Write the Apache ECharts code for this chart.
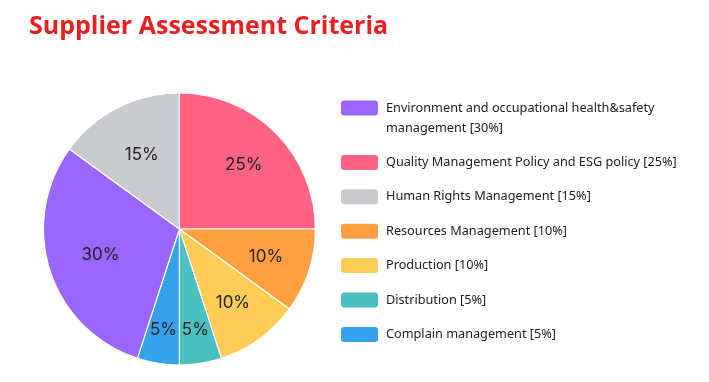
<!DOCTYPE html>
<html>
<head>
<meta charset="utf-8">
<script src="https://cdn.jsdelivr.net/npm/echarts@6/dist/echarts.min.js"></script>
<style>html,body{margin:0;padding:0;background:#fff}#c{width:709px;height:382px}</style>
</head>
<body>
<div id="c"></div>
<script>
// Slice order (clockwise from top)
const names = [
  'Quality Management Policy and ESG policy',
  'Resources Management',
  'Production',
  'Distribution',
  'Complain management',
  'Environment and occupational health&safety management',
  'Human Rights Management'
];
const values = [25, 10, 10, 5, 5, 30, 15];
const colors = ['#ff6384', '#ff9f40', '#ffcd56', '#4bc0c0', '#36a2eb', '#9966ff', '#c9cbcf'];
// Legend order
const legendOrder = [
  'Environment and occupational health&safety management',
  'Quality Management Policy and ESG policy',
  'Human Rights Management',
  'Resources Management',
  'Production',
  'Distribution',
  'Complain management'
];
// Legend display text (wrapped where the reference wraps)
const legendText = {
  'Environment and occupational health&safety management': 'Environment and occupational health&safety\nmanagement'
};

// ---- styling / layout config ----
const CENTER = [179.4, 229];
const RADIUS = 136;
// label rings: outer radius of the invisible label pie (labels sit at half of it)
const labelRings = [160, 176, 198];
const labelRingOf = [1, 1, 1, 2, 2, 0, 0];
const labelDrop = [8, 0, 0, 0, 0, 6, 6]; // top padding nudging a label down

const data = names.map((n, i) => ({ name: n, value: values[i], itemStyle: { color: colors[i] } }));
const valueOf = {};
names.forEach((n, i) => valueOf[n] = values[i]);

const labelSeries = labelRings.map((r, k) => ({
  type: 'pie',
  center: CENTER,
  radius: [0, r],
  startAngle: 90,
  clockwise: true,
  silent: true,
  itemStyle: { color: 'transparent', borderWidth: 0 },
  label: {
    show: true, position: 'inside',
    formatter: p => p.value + '%',
    fontFamily: 'Inter', fontSize: 17, color: '#222'
  },
  labelLine: { show: false },
  data: names.map((n, i) => ({
    name: n, value: values[i],
    label: { show: labelRingOf[i] === k, padding: [labelDrop[i], 0, 0, 0] }
  }))
}));

const chart = echarts.init(document.getElementById('c'));
chart.setOption({
  animation: false,
  title: {
    text: 'Supplier Assessment Criteria',
    left: 24, top: 9,
    textStyle: { color: '#ea1f1f', fontSize: 25, fontWeight: 'bold', fontFamily: 'Open Sans' }
  },
  legend: {
    orient: 'vertical',
    left: 334, top: 73,
    itemWidth: 39, itemHeight: 17,
    itemGap: 14.4,
    icon: 'roundRect',
    selectedMode: false,
    data: legendOrder,
    formatter: n => {
      const t = (legendText[n] || n) + ' [' + valueOf[n] + '%]';
      // an empty first line keeps the swatch level with the first text line
      return t.indexOf('\n') >= 0 ? '\n' + t : t;
    },
    textStyle: { fontFamily: 'Noto Sans', fontSize: 12.7, color: '#222', lineHeight: 20, padding: [0, 0, 0, 2] }
  },
  series: [
    {
      type: 'pie',
      center: CENTER,
      radius: [0, RADIUS],
      startAngle: 90,
      clockwise: true,
      silent: true,
      label: { show: false },
      labelLine: { show: false },
      itemStyle: { borderColor: '#fff', borderWidth: 1.2 },
      data: data
    }
  ].concat(labelSeries)
});
</script>
</body>
</html>
